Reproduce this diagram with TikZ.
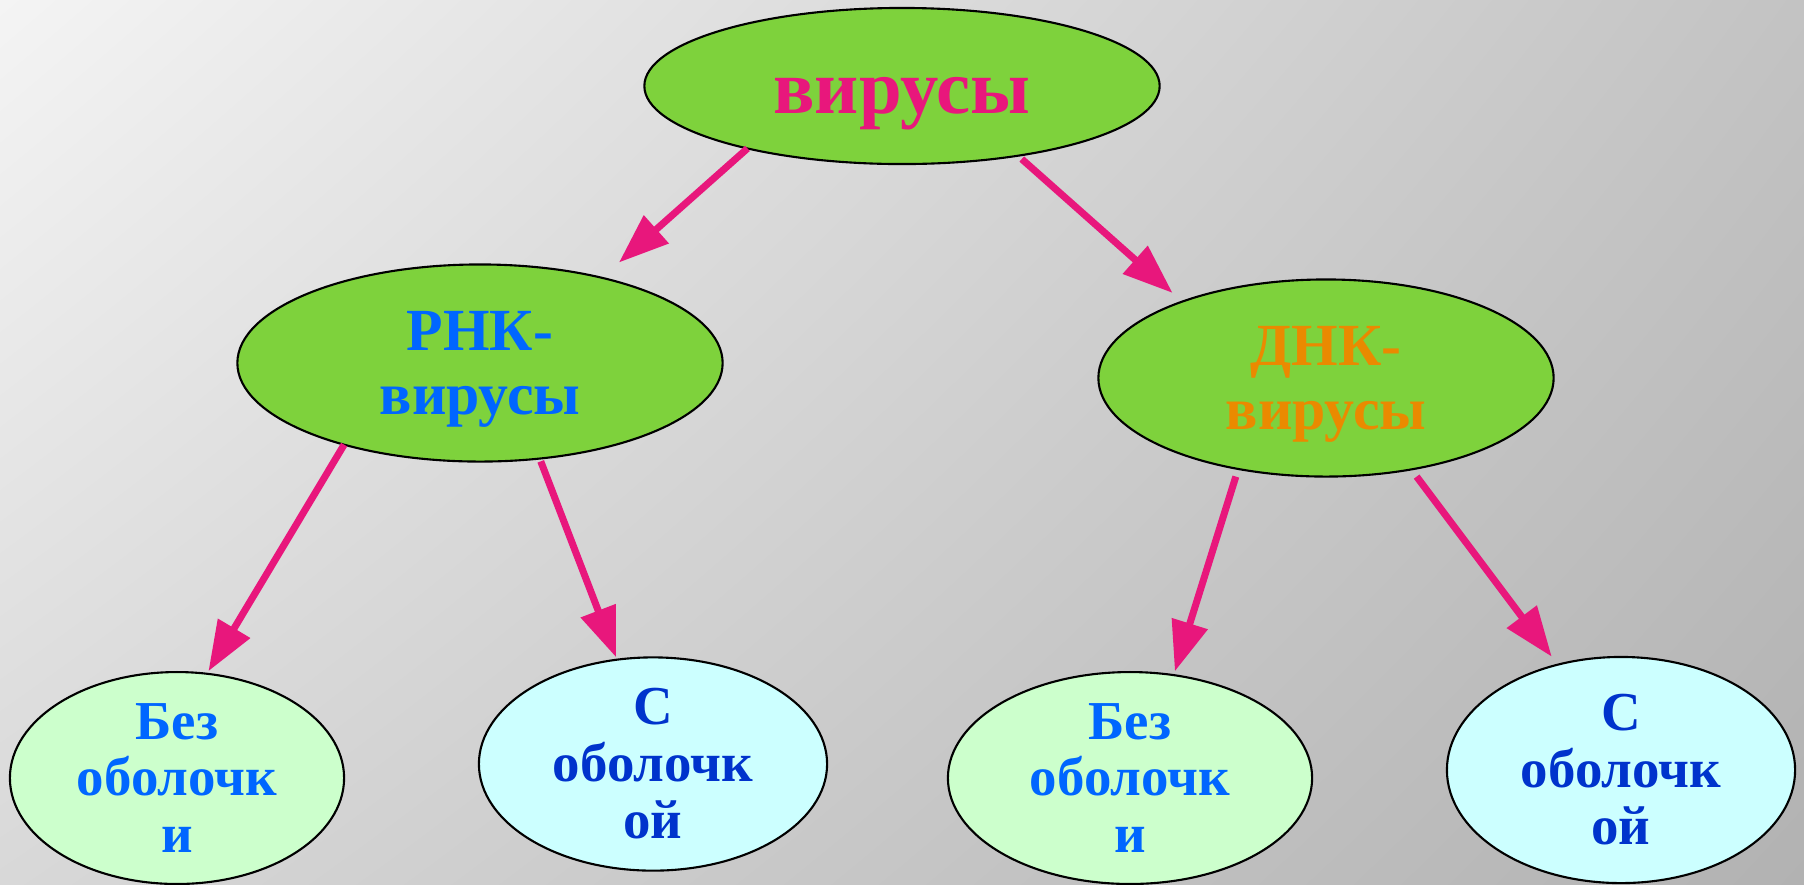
\documentclass[tikz,border=0pt]{standalone}
\usepackage{fontspec}
\setmainfont{Liberation Serif}
\usetikzlibrary{shapes.geometric, arrows.meta, shadings}

\definecolor{leafgreen}{HTML}{7ED23C}
\definecolor{arrowpink}{HTML}{E8177C}
\definecolor{rnablue}{HTML}{0066FF}
\definecolor{dnaorange}{HTML}{EA8A00}
\definecolor{palegreen}{HTML}{CCFFCC}
\definecolor{palecyan}{HTML}{CCFFFF}
\definecolor{deepblue}{HTML}{0033CC}
\definecolor{bgtl}{HTML}{F4F4F4}
\definecolor{bgtr}{HTML}{C3C3C3}
\definecolor{bgbl}{HTML}{D8D8D8}
\definecolor{bgbr}{HTML}{B2B2B2}

\begin{document}
\begin{tikzpicture}[
    x=0.01cm, y=-0.01cm,
    oval/.style={ellipse, draw=black, line width=0.6pt, inner sep=0pt, outer sep=0pt, align=center},
    big oval/.style={oval, fill=leafgreen},
    group oval/.style={big oval, minimum height=1.97cm, text depth=0pt, font=\fontsize{17}{18.2}\selectfont\bfseries},
    small oval/.style={oval, font=\fontsize{15.6}{16.2}\selectfont\bfseries},
    no shell/.style={small oval, fill=palegreen, text=rnablue},
    with shell/.style={small oval, fill=palecyan, text=deepblue},
    link/.style={arrowpink, line width=2pt, -{Triangle[length=0.5cm, width=0.36cm]}}
]
    % Background
    \useasboundingbox (0,0) rectangle (1804,884);
    \shade[upper left=bgtl, upper right=bgtr, lower left=bgbl, lower right=bgbr] (0,0) rectangle (1804,884);

    % Top
    \node[big oval, minimum width=5.15cm, minimum height=1.56cm, text=arrowpink,
          font=\fontsize{21.8}{24}\selectfont\bfseries, text height=0.76cm, text depth=0.22cm] (virus) at (902,86) {вирусы};

    % Groups
    \node[group oval, minimum width=4.85cm, text=rnablue] (rna) at (480,363) {РНК-\\вирусы};
    \node[group oval, minimum width=4.55cm, text=dnaorange] (dna) at (1326,378) {ДНК-\\вирусы};

    % Leaves
    \node[no shell, minimum width=3.34cm, minimum height=2.1cm] (rna-bare) at (177,778) {Без\\оболочк\\и};
    \node[with shell, minimum width=3.48cm, minimum height=2.13cm] (rna-coat) at (653,764) {С\\оболочк\\ой};
    \node[no shell, minimum width=3.64cm, minimum height=2.1cm] (dna-bare) at (1130,778) {Без\\оболочк\\и};
    \node[with shell, minimum width=3.48cm, minimum height=2.26cm] (dna-coat) at (1621,770) {С\\оболочк\\ой};

    % Arrows
    \draw[link, shorten >=0.23cm] (virus.202) -- (rna.35);
    \draw[link, shorten <=0.05cm, shorten >=0.13cm] (virus.329) -- (dna.152);
    \draw[link, shorten >=0.03cm] (rna.211) -- (rna-bare.74);
    \draw[link, shorten <=0.03cm, shorten >=0.025cm] (rna.302) -- (rna-coat.109);
    \draw[link, shorten <=0.08cm, shorten >=0.04cm] (dna.226) -- (dna-bare.67);
    \draw[link, shorten <=0.09cm, shorten >=0.1cm] (dna.313) -- (dna-coat.121);
\end{tikzpicture}
\end{document}
